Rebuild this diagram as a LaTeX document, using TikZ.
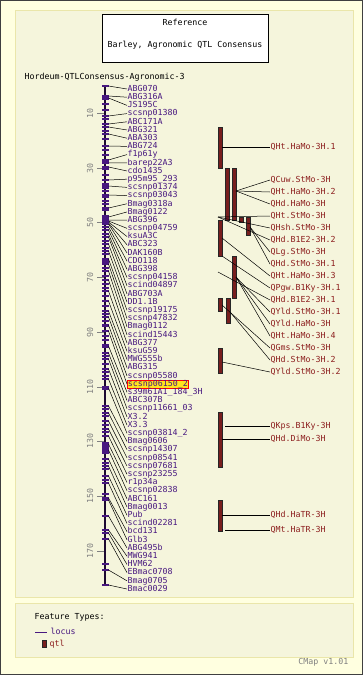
\documentclass[tikz,border=0pt]{standalone}
\usepackage{fontspec}
\newfontfamily\cmapfont{DejaVu Sans Mono}
\usetikzlibrary{positioning}

\definecolor{pageyellow}{RGB}{255,255,224}
\definecolor{panelbeige}{RGB}{245,245,220}
\definecolor{panelrim}{RGB}{234,230,170}
\definecolor{locuspurple}{RGB}{72,24,128}
\definecolor{axisdark}{RGB}{30,10,50}
\definecolor{qtlred}{RGB}{120,30,30}
\definecolor{qtltext}{RGB}{140,30,30}
\definecolor{hiyellow}{RGB}{255,228,30}

\tikzset{
  every node/.style={font=\cmapfont\fontsize{8.3}{9}\selectfont, inner sep=0.5pt},
  locus/.style={anchor=west, text=locuspurple, text height=6pt, text depth=1.5pt},
  qtl/.style={anchor=west, text=qtltext, text height=6pt, text depth=1.5pt},
  qtlbar/.style={draw=black!85, fill=qtlred, minimum width=4pt, inner sep=0pt, line width=0.6pt},
  conn/.style={black, line width=0.5pt},
  scalelbl/.style={text=gray, rotate=90},
  hi37/.style={fill=hiyellow, draw=red, line width=0.6pt},
}

\begin{document}
\begin{tikzpicture}[x=1pt, y=-1pt]
  \useasboundingbox (0,0) rectangle (363,675);
  \fill[pageyellow] (0,0) rectangle (363,675);
  \draw[black!75, line width=1pt] (0.5,0.5) rectangle (362.5,674.5);
  \draw[panelrim, fill=panelbeige, line width=1pt] (15,10) rectangle (353,597);
  \draw[panelrim, fill=panelbeige, line width=1pt] (15,603) rectangle (353,657);

  % title box
  \node (refbox) [draw=black, fill=white, line width=0.8pt, minimum width=166pt, minimum height=48pt] at (185,38) {};
  \node (reftitle) at (185,22) {Reference};
  \node (refname) [below=15pt of reftitle] {Barley, Agronomic QTL Consensus};
  \node (mapname) [anchor=west] at (24,77) {Hordeum-QTLConsensus-Agronomic-3};

  % scale
  \foreach \v/\sy in {10/113, 30/168, 50/222, 70/277, 90/332, 110/387, 130/441, 150/496, 170/551} {
    \draw[gray, line width=0.6pt] (97,\sy) -- (105,\sy);
    \node (sc\v) [scalelbl] at (90,\sy) {\v};
  }

  % chromosome
  \coordinate (chrtop) at (105,86);
  \coordinate (chrbot) at (105,585);
  \draw[axisdark, line width=2.2pt] (chrtop) -- (chrbot);
  \foreach \t in {104,110,119,131,139,150,155,169,175,184,188,191,197,201,204,234,241,248,254,268,276,284,288,296,306,314,321,336,340,356,364,372,376,409,416,425,432,453,463,469,480,483,494,564} {
    \draw[locuspurple, line width=1.1pt] (102,\t) -- (108.5,\t);
  }
  \fill[locuspurple] (101.5,95) rectangle (108.5,99.5);
  \fill[locuspurple] (101.5,158.5) rectangle (108.5,162.5);
  \fill[locuspurple] (101.5,207) rectangle (108.5,211);
  \fill[locuspurple] (101.5,215) rectangle (108.5,224.5);
  \fill[locuspurple] (101.5,257.5) rectangle (108.5,262.5);
  \fill[locuspurple] (101.5,323.5) rectangle (108.5,327);
  \fill[locuspurple] (101.5,344) rectangle (108.5,348);
  \fill[locuspurple] (101.5,386) rectangle (108.5,390);
  \fill[locuspurple] (101.5,442) rectangle (108.5,452);
  \fill[locuspurple] (101.5,497) rectangle (108.5,501);

  % loci
  \foreach \my/\name [count=\i] in {86/ABG070, 96/ABG316A, 98/JS195C, 116/scsnp01380, 124/ABC171A,
      127/ABG321, 134/ABA303, 146/ABG724, 160/f1p61y, 163/barep22A3, 167/cdo1435, 180/p95m95\_293,
      186/scsnp01374, 195/scsnp03043, 208/Bmag0318a, 217/Bmag0122, 220/ABG396, 221/scsnp04759,
      222/ksuA3C, 223/ABC323, 224/DAK160B, 227/CDO118, 230/ABG398, 234/scsnp04158, 237/scind04897,
      244/ABG703A, 251/DD1.1B, 259/scsnp19175, 264/scsnp47832, 271/Bmag0112, 280/scind15443,
      291/ABG377, 301/ksuG59, 311/MWG555b, 317/ABG315, 325/scsnp05580, 331/scsnp06150\_2,
      346/s39m61A1\_184\_3H, 353/ABC307B, 359/scsnp11661\_03, 369/X3.2, 379/X3.3,
      388/scsnp03814\_2, 406/Bmag0606, 413/scsnp14307, 421/scsnp08541, 429/scsnp07681,
      436/scsnp23255, 444/r1p34a, 450/scsnp02838, 459/ABC161, 466/Bmag0013, 476/Pub,
      483/scind02281, 498/bcd131, 500/Glb3, 516/ABG495b, 530/MWG941, 533/HVM62, 539/EBmac0708,
      570/Bmag0705, 585/Bmac0029} {
    \draw[locuspurple, line width=1.1pt] (102,\my) -- (108.5,\my);
    \coordinate (m\i) at (108.5,\my);
    \node (l\i) [locus, hi\i/.try] at (127,{89+8.197*(\i-1)}) {\name};
    \draw[conn] (m\i) -- (l\i.west);
  }

  % qtl bars
  \node (barA) [qtlbar, minimum height=41pt] at (220,147.5) {};
  \node (barB) [qtlbar, minimum height=52pt] at (227.5,194) {};
  \node (barC) [qtlbar, minimum height=52pt] at (234,194) {};
  \node (barJ) [qtlbar, minimum height=5pt] at (241,219.5) {};
  \node (barD) [qtlbar, minimum height=18pt] at (248,226) {};
  \node (barE) [qtlbar, minimum height=36pt] at (220,238) {};
  \node (barF) [qtlbar, minimum height=42pt] at (234,277) {};
  \node (barG) [qtlbar, minimum height=13pt] at (220,304.5) {};
  \node (barH) [qtlbar, minimum height=25pt] at (228,310.5) {};
  \node (barI) [qtlbar, minimum height=25pt] at (220,360.5) {};
  \node (barK) [qtlbar, minimum height=55pt] at (220,439.5) {};
  \node (barL) [qtlbar, minimum height=31pt] at (220,515.5) {};

  % qtl labels
  \foreach \qy/\qx/\py/\name [count=\j] in {147/222/147/QHt.HaMo-3H.1, 180/236/191/QCuw.StMo-3H,
      192/236/191/QHt.HaMo-3H.2, 204/236/191/QHd.HaMo-3H, 216/218/217/QHt.StMo-3H,
      228/218/217/QHsh.StMo-3H, 240/218/217/QHd.B1E2-3H.2, 252/250/227/QLg.StMo-3H,
      264/250/227/QHd.StMo-3H.1, 276/222/238/QHt.HaMo-3H.3, 288/222/256/QPgw.B1Ky-3H.1,
      300/218/272/QHd.B1E2-3H.1, 312/236/277/QYld.StMo-3H.1, 324/236/277/QYld.HaMo-3H,
      336/236/277/QHt.HaMo-3H.4, 348/222/305/QGms.StMo-3H, 360/230/312/QHd.StMo-3H.2,
      372/222/362/QYld.StMo-3H.2, 426/225/426/QKps.B1Ky-3H, 439/222/439/QHd.DiMo-3H,
      515/222/515/QHd.HaTR-3H, 530/225/530/QMt.HaTR-3H} {
    \coordinate (p\j) at (\qx,\py);
    \node (q\j) [qtl] at (270,\qy) {\name};
    \draw[conn] (p\j) -- (q\j.west);
  }

  % legend
  \node (ftypes) [anchor=west] at (34,617) {Feature Types:};
  \coordinate (legl) at (35,632);
  \coordinate (legr) at (47,632);
  \draw[locuspurple, line width=0.8pt] (legl) -- (legr);
  \node (leglocus) [locus] at (50,632) {locus};
  \node (legbar) [qtlbar, minimum height=7pt] at (44,644) {};
  \node (legqtl) [qtl] at (49,644) {qtl};
  \node (version) [anchor=east, text=gray] at (349,662) {CMap v1.01};
\end{tikzpicture}
\end{document}
